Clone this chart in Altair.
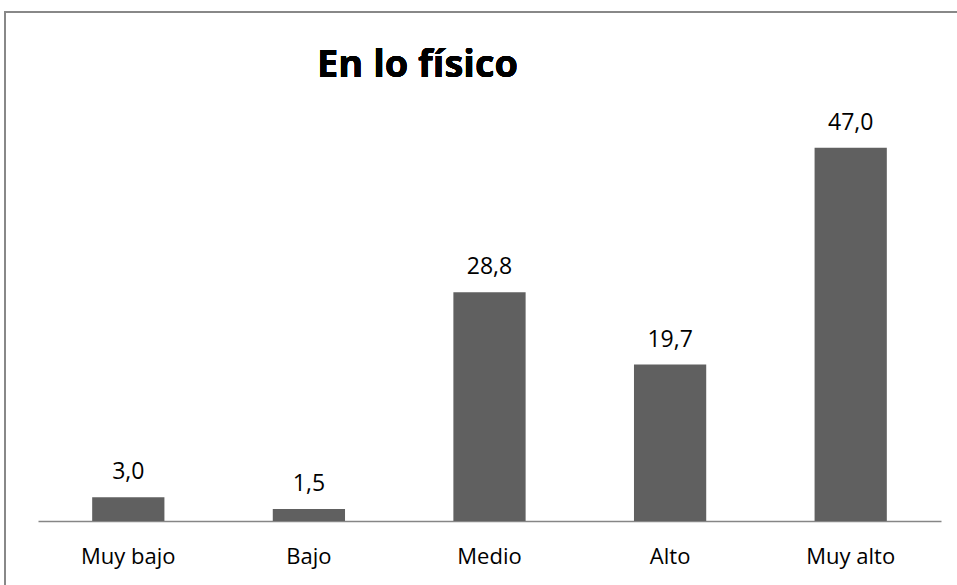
import altair as alt
import pandas as pd

categories = ["Muy bajo", "Bajo", "Medio", "Alto", "Muy alto"]
values = [3.0, 1.5, 28.8, 19.7, 47.0]
labels = ["3,0", "1,5", "28,8", "19,7", "47,0"]
title_text = "En lo físico"

df = pd.DataFrame({"cat": categories, "val": values, "lab": labels})

FONT = "Open Sans"

x = alt.X("cat:N", sort=categories, title=None,
          scale=alt.Scale(paddingInner=0.6, paddingOuter=0.3),
          axis=alt.Axis(labelAngle=0, ticks=False, tickSize=0, labelFont=FONT,
                        labelFontSize=22, labelColor="#000000", labelPadding=25,
                        domainColor="#868686", domainWidth=1.5, grid=False))
y = alt.Y("val:Q", title=None, scale=alt.Scale(domain=[0, 50], nice=False), axis=None)

bars = alt.Chart(df).mark_bar(color="#606060").encode(x=x, y=y)
text = alt.Chart(df).mark_text(font=FONT, fontSize=23, baseline="alphabetic", dy=-18,
                               color="#000000").encode(x=x, y=y, text="lab:N")

border = alt.Chart(df).mark_rect(fill=None, stroke="#888888", strokeWidth=1.5).encode(
    x=alt.value(-33), x2=alt.value(1000), y=alt.value(-112), y2=alt.value(600))

title = alt.Chart(df).mark_text(font=FONT, fontSize=38, fontWeight=700, align="left",
                                baseline="alphabetic", color="#000000").encode(
    x=alt.value(279), y=alt.value(-47), text=alt.value(title_text))

chart = alt.layer(border, bars, text, title).properties(
    width=903, height=397,
    background="white",
    autosize=alt.AutoSizeParams(type="none"),
    padding={"left": 38, "top": 124, "right": 16, "bottom": 64},
).configure_view(strokeWidth=0)

chart.save("out.html", embed_options={"renderer": "svg", "actions": False})
